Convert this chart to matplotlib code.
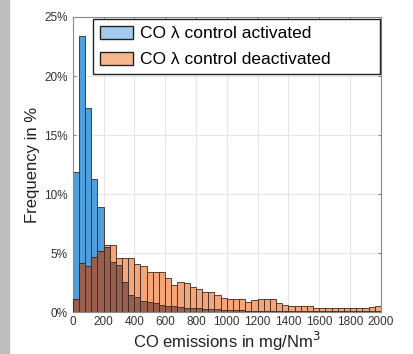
import numpy as np
import matplotlib
matplotlib.use("Agg")
import matplotlib.pyplot as plt
from matplotlib.patches import Patch, Rectangle

plt.rcParams['font.family'] = ['Liberation Sans', 'DejaVu Sans']

bin_width = 40
bin_edges = np.arange(0, 2000 + bin_width, bin_width)

activated = [11.9, 23.4, 17.3, 11.3, 8.9, 5.5, 4.3, 4.0, 2.6, 1.45,
             1.3, 0.95, 0.85, 0.75, 0.6, 0.55, 0.5, 0.45, 0.4, 0.4,
             0.35, 0.3, 0.3, 0.25, 0.2, 0.2, 0.2, 0.2, 0.15, 0.15,
             0.15, 0.15, 0.15, 0.1, 0.1, 0.1, 0.1, 0.1, 0.1, 0.1,
             0.1, 0.1, 0.1, 0.1, 0.1, 0.1, 0.1, 0.1, 0.1, 0.1]
deactivated = [1.1, 4.15, 3.9, 4.7, 5.2, 5.7, 5.7, 4.6, 4.6, 4.6,
               4.1, 3.9, 3.45, 3.4, 3.4, 2.9, 2.3, 2.55, 2.45, 2.1,
               1.95, 1.75, 1.7, 1.5, 1.25, 1.15, 1.1, 1.1, 0.9, 1.05,
               1.1, 1.1, 1.1, 0.8, 0.6, 0.5, 0.5, 0.5, 0.5, 0.4,
               0.4, 0.4, 0.4, 0.4, 0.4, 0.4, 0.35, 0.35, 0.45, 0.55]

x_ticks = list(range(0, 2001, 200))
y_ticks = [0, 5, 10, 15, 20, 25]
y_tick_labels = ["0%", "5%", "10%", "15%", "20%", "25%"]
labels = ["CO \u03bb control activated", "CO \u03bb control deactivated"]

blue = "#4f9fdc"
orange = "#f5a577"
brown = "#9a5e4c"
edge = "#3a2a25"

fig = plt.figure(figsize=(4.14, 3.54), dpi=100)
fig.patches.append(Rectangle((0, 0), 9 / 414, 1, transform=fig.transFigure,
                             color="#bdbdbd", zorder=0))
ax = fig.add_axes([0.1756, 0.1178, 0.920 - 0.1756, 0.952 - 0.1178])

left = np.array(bin_edges[:-1])
a = np.array(activated)
d = np.array(deactivated)
ax.bar(left, a, width=bin_width, align="edge", color=blue, edgecolor=edge,
       linewidth=0.6, zorder=2)
ax.bar(left, d, width=bin_width, align="edge", color=orange, edgecolor=edge,
       linewidth=0.6, zorder=3)
ax.bar(left, np.minimum(a, d), width=bin_width, align="edge", color=brown,
       edgecolor=edge, linewidth=0.6, zorder=4)

ax.set_xlim(0, 2000)
ax.set_ylim(0, 25)
ax.set_xticks(x_ticks)
ax.set_xticklabels([str(t) for t in x_ticks])
ax.set_yticks(y_ticks)
ax.set_yticklabels(y_tick_labels)
ax.grid(True, color="#e6e6e6", linewidth=0.8, zorder=0)
ax.set_axisbelow(True)
for s in ax.spines.values():
    s.set_color("#8a8a8a")
    s.set_linewidth(0.8)
ax.tick_params(axis="both", labelsize=8.5, colors="#8a8a8a", length=2,
               labelcolor="#333333", direction="in", top=True, right=True)
ax.tick_params(axis="x", pad=3)

ax.set_xlabel("CO emissions in mg/Nm$^3$", fontsize=12, color="#222222", labelpad=1)
ax.set_ylabel("Frequency in %", fontsize=12, color="#222222", labelpad=3)

handles = [Patch(facecolor="#a3cbef", edgecolor="#222222", linewidth=1.0),
           Patch(facecolor="#f7b68c", edgecolor="#222222", linewidth=1.0)]
leg = ax.legend(handles, labels, loc="upper left", fontsize=12.5, frameon=True,
                fancybox=False, edgecolor="#222222", framealpha=1,
                bbox_to_anchor=(0.066, 0.993, 0.931, 0.0), mode="expand",
                handlelength=1.9, handleheight=0.75, handletextpad=0.4,
                borderpad=0.4, labelspacing=0.6, borderaxespad=0.0)
leg.get_frame().set_linewidth(1.0)

fig.savefig("out.png", dpi=100)
